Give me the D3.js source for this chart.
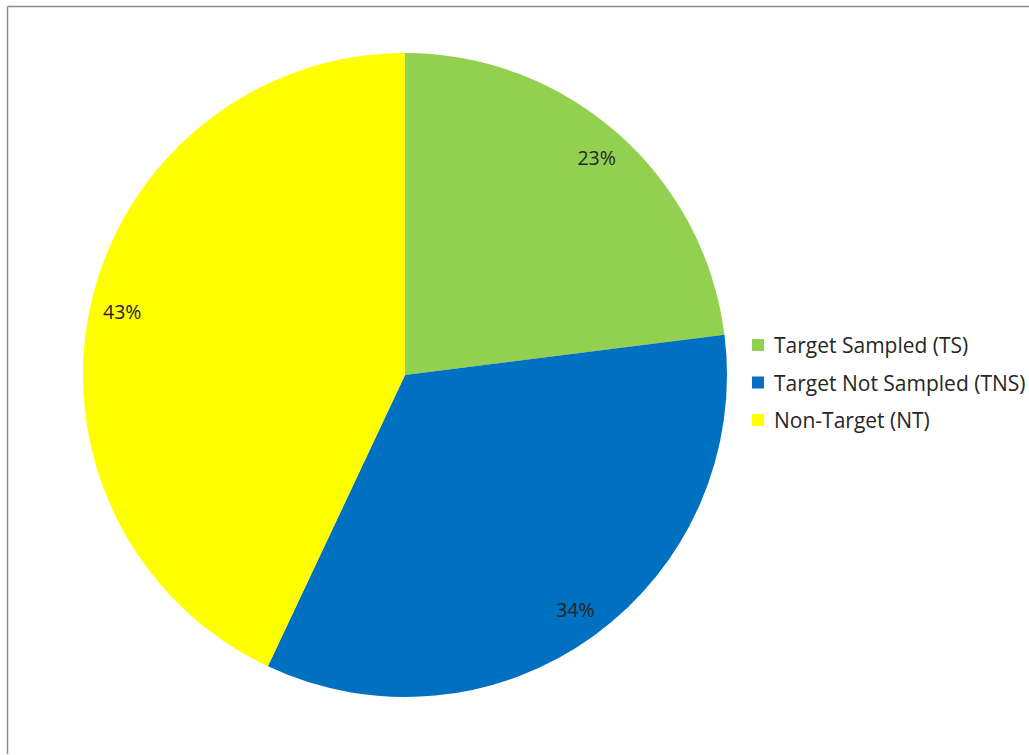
<!DOCTYPE html>
<html><head><meta charset="utf-8">
<script src="https://cdn.jsdelivr.net/npm/d3@7"></script>
<style>html,body{margin:0;padding:0;background:#fff;}</style>
</head><body>
<svg id="chart" width="1029" height="755"></svg>
<script>
const categories = ["Target Sampled (TS)", "Target Not Sampled (TNS)", "Non-Target (NT)"];
const values = [23, 34, 43];
const colors = ["#92D050", "#0070C0", "#FFFF00"];

const svg = d3.select("#chart");
// frame
svg.append("line").attr("x1",7.5).attr("y1",6.5).attr("x2",1029).attr("y2",6.5).attr("stroke","#8a8a8a").attr("stroke-width",1.5);
svg.append("line").attr("x1",7.5).attr("y1",6.5).attr("x2",7.5).attr("y2",754).attr("stroke","#8a8a8a").attr("stroke-width",1.5);

const cx = 405, cy = 375, r = 322;
const pie = d3.pie().sort(null).value(d => d)(values);
const arc = d3.arc().innerRadius(0).outerRadius(r);
const labelArc = d3.arc().innerRadius(r*0.9).outerRadius(r*0.9);
const g = svg.append("g").attr("transform",`translate(${cx},${cy})`);
g.selectAll("path").data(pie).join("path")
  .attr("d", arc).attr("fill",(d,i)=>colors[i]);
g.selectAll("text").data(pie).join("text")
  .attr("transform", d => `translate(${labelArc.centroid(d)})`)
  .attr("text-anchor","middle").attr("dominant-baseline","central")
  .attr("font-family","'Open Sans', sans-serif").attr("font-size",19.5)
  .attr("fill","#262626")
  .text(d => d.value + "%");

const lg = svg.append("g").attr("transform","translate(752,339)");
const item = lg.selectAll("g").data(categories).join("g")
  .attr("transform",(d,i)=>`translate(0,${i*37.5})`);
item.append("rect").attr("width",12).attr("height",12).attr("fill",(d,i)=>colors[i]);
item.append("text").attr("x",22).attr("y",6).attr("dominant-baseline","central")
  .attr("font-family","'Open Sans', sans-serif").attr("font-size",21)
  .attr("fill","#262626").text(d=>d);
</script>
</body></html>
